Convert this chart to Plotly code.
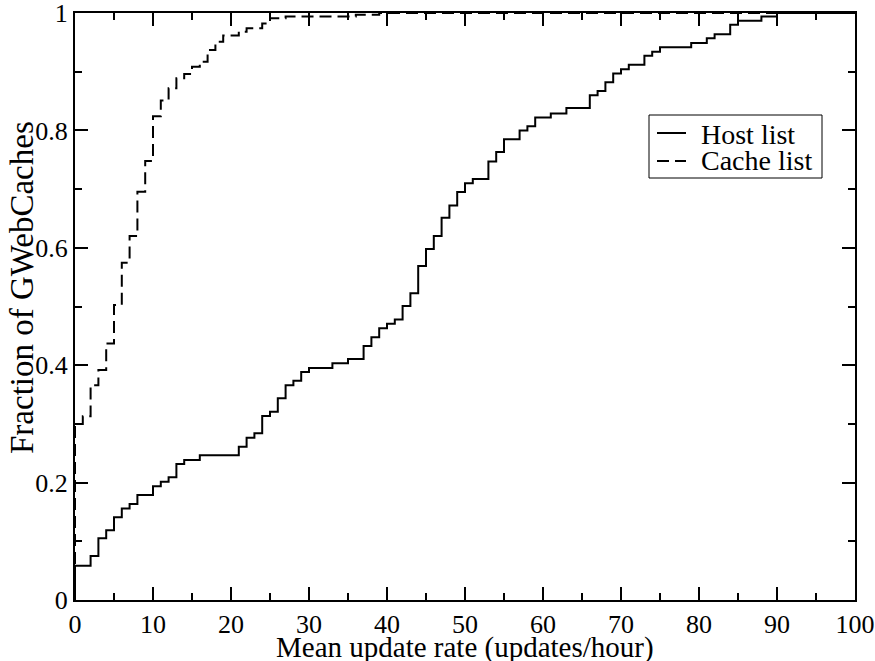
import plotly.graph_objects as go

# Host list CDF (step positions and cumulative fraction after each step)
host_x = [0, 0, 2, 3, 4, 5, 6, 7, 8, 10, 11, 12, 13, 14, 16, 21, 22, 23, 24, 25, 26, 27, 28, 29, 30,
          33, 35, 37, 38, 39, 40, 41, 42, 43, 44, 45, 46, 47, 48, 49, 50, 51, 53, 54, 55, 57, 58, 59,
          61, 63, 66, 67, 68, 69, 70, 71, 73, 74, 75, 79, 81, 82, 84, 85, 88, 90, 100]
host_y = [0.0, 0.0585, 0.075, 0.105, 0.119, 0.141, 0.156, 0.1635, 0.179, 0.1937, 0.2016, 0.209,
          0.2317, 0.2385, 0.2465, 0.2612, 0.2765, 0.284, 0.3135, 0.3208, 0.3436, 0.3657, 0.3736,
          0.3884, 0.3952, 0.4032, 0.4106, 0.4327, 0.4475, 0.4628, 0.4707, 0.478, 0.5009, 0.5225,
          0.569, 0.598, 0.62, 0.651, 0.672, 0.695, 0.71, 0.717, 0.747, 0.763, 0.785, 0.80, 0.807,
          0.822, 0.829, 0.838, 0.86, 0.867, 0.882, 0.897, 0.904, 0.912, 0.927, 0.934, 0.9415,
          0.949, 0.957, 0.964, 0.98, 0.987, 0.994, 1.0, 1.0]

# Cache list CDF
cache_x = [0, 0, 1, 2, 3, 4, 5, 6, 7, 8, 9, 10, 11, 12, 13, 14, 15, 16, 17, 18, 19, 21, 22, 24,
           25, 27, 36, 39, 100]
cache_y = [0.0, 0.30, 0.313, 0.366, 0.392, 0.437, 0.5025, 0.5747, 0.62, 0.6956, 0.748, 0.824,
           0.851, 0.872, 0.889, 0.896, 0.9085, 0.917, 0.937, 0.951, 0.9615, 0.968, 0.974, 0.982,
           0.991, 0.994, 0.997, 1.0, 1.0]

series_names = ["Host list", "Cache list"]
x_title = "Mean update rate (updates/hour)"
y_title = "Fraction of GWebCaches"

FONT = "Liberation Serif, Times New Roman, serif"
DASH = "12px,6px"

fig = go.Figure()
fig.add_trace(go.Scatter(x=host_x, y=host_y, mode="lines", line_shape="hv",
                         line=dict(color="black", width=2), name=series_names[0],
                         showlegend=False))
fig.add_trace(go.Scatter(x=cache_x, y=cache_y, mode="lines", line_shape="hv",
                         line=dict(color="black", width=2, dash=DASH), name=series_names[1],
                         showlegend=False))

axis_common = dict(
    showline=True, linewidth=2, linecolor="black", mirror="allticks",
    ticks="inside", ticklen=13, tickwidth=1.5, tickcolor="black",
    showgrid=False, zeroline=False, ticklabeloverflow="allow", automargin=False,
    tickfont=dict(family=FONT, size=26, color="black"),
)
fig.update_xaxes(range=[0, 100], dtick=10, tick0=0,
                 minor=dict(ticks="inside", ticklen=7, dtick=5, tickwidth=1.5, tickcolor="black",
                            showgrid=False),
                 **axis_common)
fig.update_yaxes(range=[0, 1], dtick=0.2, tick0=0,
                 minor=dict(ticks="inside", ticklen=7, dtick=0.1, tickwidth=1.5, tickcolor="black",
                            showgrid=False),
                 **axis_common)

L, R, T, B = 75, 20, 13, 61
W, H = 875, 661
pw, ph = W - L - R, H - T - B

def px(xp):
    return (xp - L) / pw

def py(yp):
    return (T + ph - yp) / ph

annotations = [
    dict(text=x_title, x=px(465), y=py(647), xref="paper", yref="paper",
         xanchor="center", yanchor="middle", showarrow=False,
         font=dict(family=FONT, size=29, color="black")),
    dict(text=y_title, x=px(22), y=py(288), xref="paper", yref="paper",
         xanchor="center", yanchor="middle", showarrow=False, textangle=-90,
         font=dict(family=FONT, size=33, color="black")),
    dict(text=series_names[0], x=px(699), y=py(134), xref="paper", yref="paper",
         xanchor="left", yanchor="middle", showarrow=False,
         font=dict(family=FONT, size=28, color="black")),
    dict(text=series_names[1], x=px(699), y=py(161), xref="paper", yref="paper",
         xanchor="left", yanchor="middle", showarrow=False,
         font=dict(family=FONT, size=28, color="black")),
]

shapes = [
    dict(type="rect", xref="paper", yref="paper", x0=px(649), x1=px(822), y0=py(178), y1=py(115),
         line=dict(color="black", width=1), fillcolor="white", layer="above"),
    dict(type="line", xref="paper", yref="paper", x0=px(657), x1=px(686), y0=py(133), y1=py(133),
         line=dict(color="black", width=2)),
    dict(type="line", xref="paper", yref="paper", x0=px(657), x1=px(686), y0=py(161), y1=py(161),
         line=dict(color="black", width=2, dash=DASH)),
]

fig.update_layout(
    width=W, height=H,
    margin=dict(l=L, r=R, t=T, b=B, pad=0, autoexpand=False),
    paper_bgcolor="white", plot_bgcolor="white",
    font=dict(family=FONT, color="black"),
    annotations=annotations, shapes=shapes,
    showlegend=False,
)

fig.write_html("out.html")
